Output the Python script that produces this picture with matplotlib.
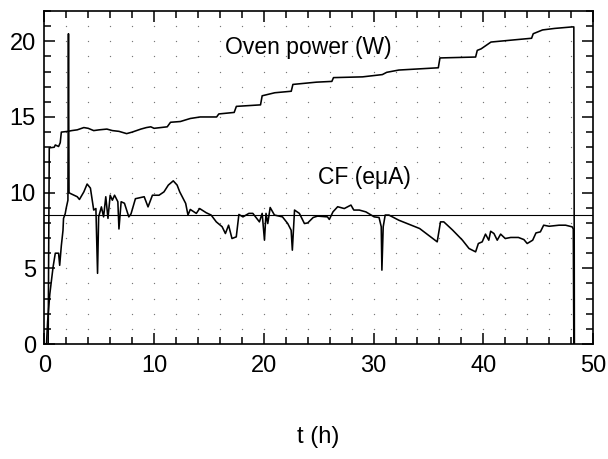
import numpy as np
import matplotlib
matplotlib.use("Agg")
import matplotlib.pyplot as plt

plt.rcParams['font.family'] = ['Liberation Sans', 'DejaVu Sans']

# Oven power (W) vs time (h)
power_t = [0.35, 0.45, 0.9, 1.0, 1.3, 1.45, 1.55, 2.15, 2.5, 3.0, 3.6, 4.0, 4.5, 5.0,
           5.7, 6.2, 6.8, 7.5, 8.0, 8.8, 9.3, 9.7, 10.0, 11.2, 11.5, 12.4, 13.3, 14.2,
           15.7, 15.9, 17.3, 17.5, 18.6, 19.7, 19.85, 21.0, 22.5, 22.65, 24.8, 26.2,
           26.35, 29.0, 30.8, 31.2, 32.3, 35.9, 36.05, 39.3, 39.45, 39.8, 40.2, 40.7,
           42.9, 44.4, 44.55, 45.4, 46.5, 48.1, 48.25, 48.3]
power_w = [0.0, 12.96, 13.0, 13.15, 13.05, 13.3, 14.0, 14.05, 14.1, 14.15, 14.3, 14.25,
           14.1, 14.15, 14.2, 14.1, 14.05, 13.9, 14.0, 14.2, 14.3, 14.35, 14.25, 14.35,
           14.65, 14.7, 14.9, 15.0, 15.0, 15.2, 15.3, 15.7, 15.75, 15.8, 16.4, 16.6,
           16.7, 17.15, 17.3, 17.35, 17.6, 17.65, 17.8, 17.95, 18.1, 18.25, 18.9, 18.96,
           19.4, 19.5, 19.7, 19.95, 20.1, 20.2, 20.5, 20.75, 20.85, 20.95, 20.95, 0.0]

# CF current (e uA) vs time (h)
cf_t = [0.2, 0.3, 0.5, 0.7, 0.8, 1.0, 1.3, 1.4, 1.55, 1.7, 1.75, 1.9, 2.0, 2.15, 2.2,
        2.25, 2.36, 3.0, 3.2, 3.6, 3.9, 4.2, 4.4, 4.5, 4.7, 4.85, 4.95, 5.2, 5.4, 5.6,
        5.8, 6.0, 6.2, 6.4, 6.7, 6.8, 7.0, 7.3, 7.7, 7.9, 8.3, 9.1, 9.45, 9.85, 10.45,
        10.9, 11.3, 11.75, 12.1, 12.34, 12.88, 13.09, 13.3, 13.85, 14.15, 14.76, 15.2,
        15.67, 16.2, 16.5, 16.79, 17.1, 17.49, 17.73, 18.1, 18.64, 19.0, 19.6, 19.85,
        20.06, 20.2, 20.36, 20.58, 20.97, 21.7, 22.18, 22.49, 22.6, 22.8, 23.24, 23.7,
        24.0, 24.5, 24.9, 25.8, 25.97, 26.3, 26.73, 27.33, 27.94, 28.2, 28.7, 29.3,
        30.06, 30.5, 30.7, 30.76, 30.88, 31.06, 31.4, 32.3, 34.2, 35.8, 36.1, 36.4,
        37.2, 38.1, 38.7, 39.3, 39.55, 39.9, 40.2, 40.5, 40.67, 40.97, 41.27, 41.58,
        42.0, 42.5, 43.2, 43.7, 44.0, 44.5, 44.8, 45.2, 45.5, 46.0, 46.9, 47.5, 48.1,
        48.2, 48.25]
cf_ua = [0.0, 1.5, 3.3, 4.5, 5.1, 6.0, 6.0, 5.2, 6.5, 7.5, 8.3, 8.6, 9.0, 9.5, 20.5,
         10.0, 9.95, 9.73, 9.55, 10.05, 10.57, 10.3, 9.3, 8.85, 8.95, 4.67, 8.4, 9.06,
         8.4, 9.73, 8.3, 9.83, 9.5, 9.83, 9.4, 7.6, 9.4, 9.3, 8.4, 8.6, 9.6, 9.73, 9.06,
         9.83, 9.83, 10.05, 10.5, 10.78, 10.5, 10.05, 9.29, 8.52, 8.89, 8.63, 8.95, 8.67,
         8.52, 8.07, 7.75, 7.3, 7.85, 6.97, 7.08, 8.56, 8.4, 8.63, 8.63, 8.07, 8.63,
         6.86, 8.63, 7.96, 9.02, 8.52, 8.4, 7.96, 7.52, 6.2, 8.85, 8.63, 7.96, 8.0,
         8.36, 8.45, 8.4, 8.23, 8.73, 9.07, 8.95, 9.18, 8.85, 8.85, 8.73, 8.4, 8.36,
         7.75, 4.88, 7.75, 8.52, 8.52, 8.18, 7.63, 6.75, 8.07, 8.07, 7.53, 6.86, 6.31,
         6.09, 6.64, 6.75, 7.26, 6.86, 7.45, 7.3, 6.86, 7.26, 6.97, 7.04, 7.04, 6.9,
         6.64, 6.86, 7.34, 7.41, 7.85, 7.78, 7.85, 7.85, 7.74, 7.6, 0.0]

ref_level = 8.5
x_ticks = [0, 10, 20, 30, 40, 50]
y_ticks = [0, 5, 10, 15, 20]

fig = plt.figure(figsize=(6.08, 4.59), dpi=100)
ax = fig.add_axes([0.0729, 0.2505, 0.9025, 0.7255])

# dotted grid (dots at minor intersections)
gx, gy = np.meshgrid(np.arange(2, 50, 2), np.arange(1, 22, 1))
ax.scatter(gx.ravel(), gy.ravel(), s=0.9, color='#777777', linewidths=0, zorder=1)

ax.plot(power_t, power_w, color='black', lw=1.15, zorder=3)
ax.plot(cf_t, cf_ua, color='black', lw=1.15, zorder=3)
ax.axhline(ref_level, color='black', lw=0.8, zorder=2)

ax.set_xlim(0, 50)
ax.set_ylim(0, 22)
ax.set_xticks(x_ticks)
ax.set_yticks(y_ticks)
ax.set_xticks(np.arange(0, 51, 2), minor=True)
ax.set_yticks(np.arange(0, 23, 1), minor=True)
ax.tick_params(which='both', direction='in', top=True, right=True, width=1.1,
               labelsize=17)
ax.tick_params(which='major', length=8)
ax.tick_params(which='minor', length=5)
ax.tick_params(axis='x', pad=8)
ax.tick_params(axis='y', pad=6)
for s in ax.spines.values():
    s.set_linewidth(1.2)

ax.text(16.5, 19.6, 'Oven power (W)', fontsize=16.5, va='center', ha='left')
ax.text(24.9, 11.0, 'CF (eμA)', fontsize=16.5, va='center', ha='left')

ax.set_xlabel('t (h)', fontsize=17)
ax.xaxis.set_label_coords(0.5, -0.245)

fig.savefig('out.png', dpi=100)
